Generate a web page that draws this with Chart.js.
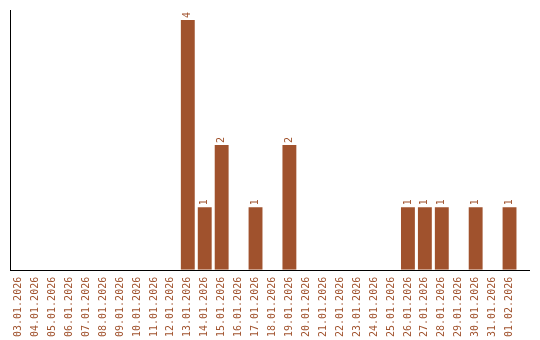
<!DOCTYPE html>
<html><head><meta charset="utf-8">
<script src="https://cdn.jsdelivr.net/npm/chart.js@4/dist/chart.umd.min.js"></script>
<style>html,body{margin:0;padding:0;background:#fff}#wrap{width:540px;height:340px}</style>
</head><body><div id="wrap"><canvas id="c"></canvas></div>
<script>
const categories = ["03.01.2026","04.01.2026","05.01.2026","06.01.2026","07.01.2026","08.01.2026","09.01.2026","10.01.2026","11.01.2026","12.01.2026","13.01.2026","14.01.2026","15.01.2026","16.01.2026","17.01.2026","18.01.2026","19.01.2026","20.01.2026","21.01.2026","22.01.2026","23.01.2026","24.01.2026","25.01.2026","26.01.2026","27.01.2026","28.01.2026","29.01.2026","30.01.2026","31.01.2026","01.02.2026"];
const counts = [0,0,0,0,0,0,0,0,0,0,4,1,2,0,1,0,2,0,0,0,0,0,0,1,1,1,0,1,0,1];
const barColor = "#a0522d";
const font = {family: "'DejaVu Sans Mono', monospace", size: 10};

const labelPlugin = {
  id: 'vlabels',
  afterDatasetsDraw(chart) {
    const ctx = chart.ctx;
    const meta = chart.getDatasetMeta(0);
    ctx.save();
    // extended x-axis baseline
    const a = chart.chartArea;
    ctx.strokeStyle = '#000';
    ctx.lineWidth = 1;
    ctx.beginPath();
    ctx.moveTo(a.left, Math.round(a.bottom) + 0.5);
    ctx.lineTo(a.right + 12, Math.round(a.bottom) + 0.5);
    ctx.stroke();
    ctx.fillStyle = barColor;
    ctx.font = "10px 'DejaVu Sans Mono', monospace";
    ctx.textAlign = 'left';
    ctx.textBaseline = 'middle';
    meta.data.forEach((bar, i) => {
      const v = counts[i];
      if (!v) return;
      ctx.save();
      ctx.translate(bar.x, bar.y - 2);
      ctx.rotate(-Math.PI / 2);
      ctx.fillText(String(v), 0, 0);
      ctx.restore();
    });
    ctx.restore();
  }
};

new Chart(document.getElementById('c'), {
  type: 'bar',
  data: {labels: categories, datasets: [{data: counts, backgroundColor: barColor, barPercentage: 0.82, categoryPercentage: 1}]},
  options: {
    responsive: true, maintainAspectRatio: false, animation: false,
    layout: {padding: {left: 10, top: 10, right: 22, bottom: -4}},
    plugins: {legend: {display: false}, tooltip: {enabled: false}},
    scales: {
      x: {
        grid: {display: false, drawTicks: false},
        border: {display: false},
        ticks: {color: barColor, font: font, maxRotation: 90, minRotation: 90, autoSkip: false, padding: 7}
      },
      y: {
        min: 0, max: 4.16,
        grid: {display: false, drawTicks: false},
        border: {display: true, color: '#000', width: 1},
        ticks: {display: false}
      }
    }
  },
  plugins: [labelPlugin]
});
</script></body></html>
